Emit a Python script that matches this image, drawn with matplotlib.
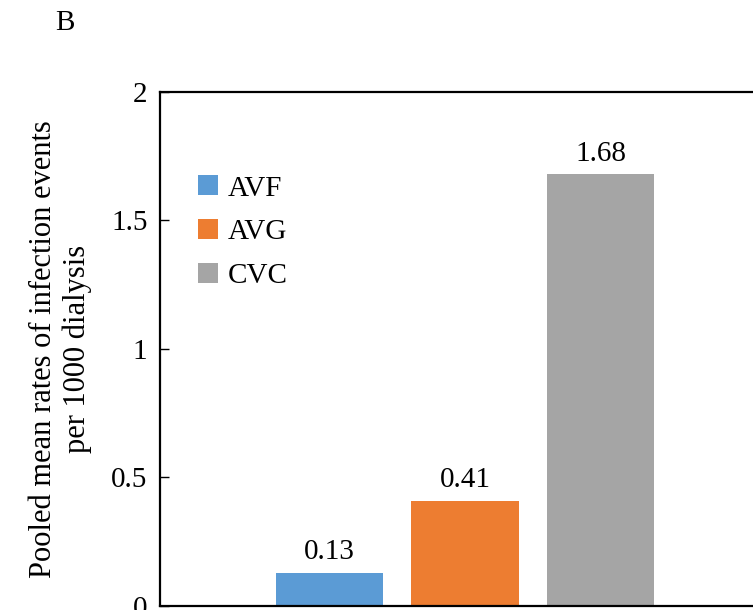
import numpy as np
import matplotlib.pyplot as plt

plt.rcParams['font.family'] = ['Liberation Serif', 'DejaVu Serif']

# pooled mean infection rates per access type
access = ['AVF', 'AVG', 'CVC']
rates = [0.13, 0.41, 1.68]
colors = ['#5B9BD5', '#ED7D31', '#A5A5A5']

fig = plt.figure(figsize=(7.53, 6.10), dpi=100)
ax = fig.add_axes([0.2125, 0.0066, 0.81, 0.8426])

x = np.arange(len(access))
ax.bar(x, rates, width=0.79, color=colors, label=access)

# value labels above the bars
for xi, r in zip(x, rates):
    ax.text(xi, r + 0.03, f'{r:.2f}', ha='center', va='bottom', fontsize=21)

ax.set_xlim(-1.25, 3.25)
ax.set_ylim(0, 2)
ax.set_yticks([0, 0.5, 1, 1.5, 2])
ax.set_yticklabels(['0', '0.5', '1', '1.5', '2'])
ax.set_xticks([])
ax.tick_params(axis='y', direction='in', length=6.5, width=1, labelsize=21, pad=9)
for s in ax.spines.values():
    s.set_linewidth(1.6)

ax.set_ylabel('Pooled mean rates of infection events\nper 1000 dialysis', fontsize=22)
ax.yaxis.set_label_coords(-0.111, 0.5)

ax.legend(frameon=False, loc='upper left', bbox_to_anchor=(0.062, 0.838),
          fontsize=21, handlelength=0.69, handleheight=0.69, handletextpad=0.35,
          labelspacing=0.6, borderpad=0, borderaxespad=0)

fig.text(0.073, 1 - 30 / 610, 'B', fontsize=21, ha='left', va='baseline')

fig.savefig('out.png', dpi=100)
